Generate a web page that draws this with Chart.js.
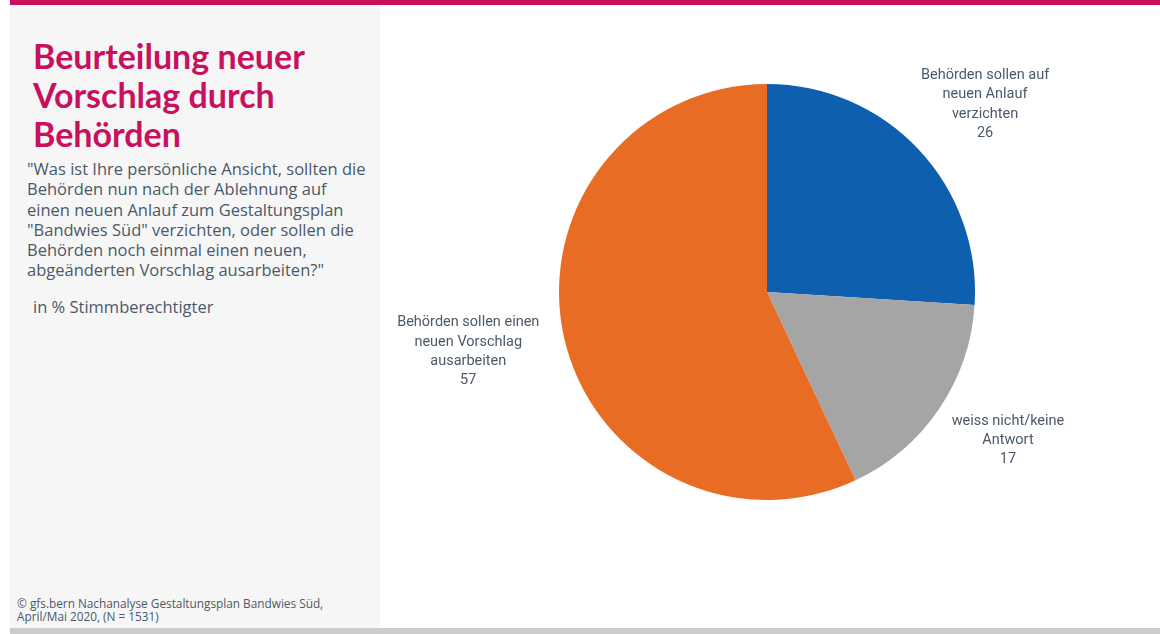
<!DOCTYPE html>
<html lang="de">
<head>
<meta charset="utf-8">
<title>Beurteilung neuer Vorschlag durch Behörden</title>
<script src="https://cdn.jsdelivr.net/npm/chart.js@4/dist/chart.umd.min.js"></script>
<style>
  html, body { margin: 0; padding: 0; background: #fff; }
  body { width: 1160px; height: 634px; position: relative; overflow: hidden; font-family: "Open Sans", Lato, sans-serif; }
  .topbar { position: absolute; left: 10px; top: 0; width: 1150px; height: 5px; background: #c8115e; }
  .bottombar { position: absolute; left: 10px; top: 628px; width: 1150px; height: 6px; background: #cccccc; }
  .side { position: absolute; left: 10px; top: 5px; width: 370px; height: 623px; background: #f6f6f6; }
  h1 { position: absolute; left: 33px; top: 36px; margin: 0; font-family: Lato, sans-serif; font-size: 34px; line-height: 39px; color: #c8115e; font-weight: 700; }
  .question { position: absolute; left: 27px; top: 159px; margin: 0; font-size: 16.5px; line-height: 20.3px; color: #4b5968; }
  .unit { position: absolute; left: 33px; top: 295px; margin: 0; font-size: 16.5px; color: #4b5968; }
  .source { position: absolute; left: 17px; top: 597px; margin: 0; font-size: 11.8px; line-height: 12.5px; color: #4b5968; }
  #chart { position: absolute; left: 380px; top: 5px; }
</style>
</head>
<body>
<div class="topbar"></div>
<div class="side"></div>
<div class="bottombar"></div>
<h1>Beurteilung neuer<br>Vorschlag durch<br>Behörden</h1>
<p class="question">"Was ist Ihre persönliche Ansicht, sollten die<br>Behörden nun nach der Ablehnung auf<br>einen neuen Anlauf zum Gestaltungsplan<br>"Bandwies Süd" verzichten, oder sollen die<br>Behörden noch einmal einen neuen,<br>abgeänderten Vorschlag ausarbeiten?"</p>
<p class="unit">in % Stimmberechtigter</p>
<p class="source">© gfs.bern Nachanalyse Gestaltungsplan Bandwies Süd,<br>April/Mai 2020, (N = 1531)</p>
<canvas id="chart" width="780" height="623"></canvas>
<script>
const categories = [
    ['Behörden sollen auf', 'neuen Anlauf', 'verzichten'],
    ['weiss nicht/keine', 'Antwort'],
    ['Behörden sollen einen', 'neuen Vorschlag', 'ausarbeiten']
];
const values = [26, 17, 57];
const colors = ['#0e5fad', '#a5a5a5', '#e86c23'];

// Labels outside the pie: anchored just beyond the rim on each slice's
// middle angle, then pushed outward by half the text block's size
const outsideLabels = {
    id: 'outsideLabels',
    afterDatasetsDraw(chart) {
        const ctx = chart.ctx;
        const meta = chart.getDatasetMeta(0);
        const lineHeight = 19.4;
        ctx.save();
        ctx.font = '14.5px Roboto, sans-serif';
        ctx.fillStyle = '#4b5968';
        ctx.textAlign = 'center';
        ctx.textBaseline = 'middle';
        meta.data.forEach((arc, i) => {
            const lines = categories[i].concat(String(values[i]));
            const w = Math.max(...lines.map(l => ctx.measureText(l).width));
            const h = lines.length * lineHeight;
            const mid = (arc.startAngle + arc.endAngle) / 2;
            const dx = Math.cos(mid), dy = Math.sin(mid);
            const dist = arc.outerRadius + 27;
            const cx = arc.x + dx * dist + dx * w / 2;
            const cy = arc.y + dy * dist + dy * h / 2;
            const top = cy - (lines.length - 1) * lineHeight / 2;
            lines.forEach((line, j) => ctx.fillText(line, cx, top + j * lineHeight));
        });
        ctx.restore();
    }
};

new Chart(document.getElementById('chart'), {
    type: 'pie',
    data: {
        labels: categories.map(c => c.join(' ')),
        datasets: [{
            data: values,
            backgroundColor: colors,
            borderWidth: 0
        }]
    },
    options: {
        responsive: false,
        animation: false,
        layout: { padding: { left: 179, right: 185, top: 79, bottom: 128 } },
        plugins: {
            legend: { display: false },
            tooltip: { enabled: false }
        }
    },
    plugins: [outsideLabels]
});
</script>
</body>
</html>
